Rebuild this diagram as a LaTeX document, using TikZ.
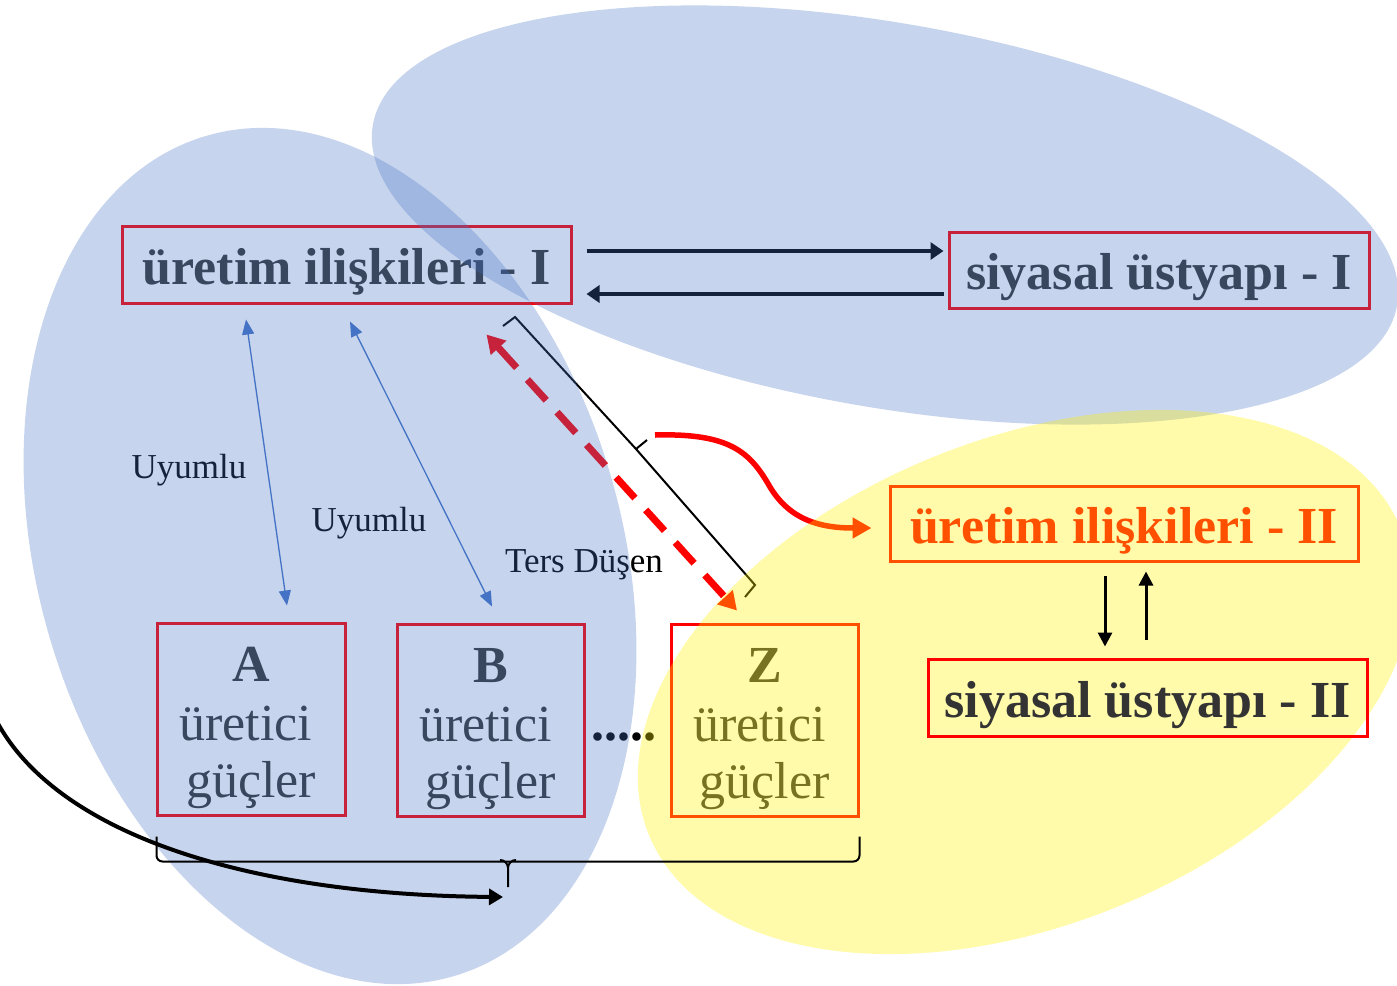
\documentclass[tikz,border=0pt]{standalone}
\usepackage{fontspec}
\setmainfont{Liberation Serif}
\usetikzlibrary{arrows.meta}
\definecolor{blueE}{HTML}{4472C4}
\definecolor{darkT}{HTML}{333333}
\begin{document}
\begin{tikzpicture}[x=1pt,y=1pt,
  bigbox/.style={draw=red, line width=3pt, rectangle, inner sep=0pt, text height=39pt, text depth=0pt, font=\fontsize{52}{58}\selectfont\bfseries},
  pbox/.style={draw=red, line width=3pt, rectangle, inner sep=0pt, minimum width=187pt, minimum height=192pt},
  bigtxt/.style={anchor=base, inner sep=0pt, text=darkT, font=\fontsize{52}{58}\selectfont},
  bigtxtb/.style={anchor=base, inner sep=0pt, text=darkT, font=\fontsize{52}{58}\selectfont\bfseries},
  lbl/.style={anchor=base, inner sep=0pt, text=black, font=\fontsize{35}{40}\selectfont},
  dkarrow/.style={line width=4.5pt, -{Triangle[length=13pt,width=17pt]}},
  vtarrow/.style={line width=3pt, -{Triangle[length=14pt,width=14pt]}},
  bluearrow/.style={blueE, line width=1.3pt, {Triangle[length=15pt,width=12pt]}-{Triangle[length=15pt,width=12pt]}},
  bracketline/.style={line width=2pt, line join=miter},
  blueblob/.style={fill=blueE, opacity=0.3},
  yellowblob/.style={fill=yellow, opacity=0.333}
]
\clip (0,0) rectangle (1397,-985);

% ---------- lower layer (seen through the ellipses) ----------
\node[bigbox, minimum width=449pt, minimum height=77pt, text=darkT] (rel1) at (346.5,-264.5) {üretim ilişkileri - I};
\node[bigbox, minimum width=420pt, minimum height=76pt, text=darkT] (pol1) at (1159,-270) {siyasal üstyapı - I};
\node[bigbox, minimum width=468pt, minimum height=75pt, text=red] (rel2) at (1124,-523.5) {üretim ilişkileri - II};

\node[pbox, minimum width=188pt] (fa) at (251,-719) {};
\node[pbox] (fb) at (490.5,-720) {};
\node[pbox] (fz) at (764.5,-720) {};

\node[bigtxtb] (faT) at ([yshift=38pt]fa.center) {A};
\node[bigtxt] (fa1) at ([xshift=-5pt,yshift=-21pt]fa.center) {üretici};
\node[bigtxt] (fa2) at ([yshift=-78pt]fa.center) {güçler};
\node[bigtxtb] (fbT) at ([yshift=38pt]fb.center) {B};
\node[bigtxt] (fb1) at ([xshift=-5pt,yshift=-21pt]fb.center) {üretici};
\node[bigtxt] (fb2) at ([yshift=-78pt]fb.center) {güçler};
\node[bigtxtb] (fzT) at ([yshift=38pt]fz.center) {Z};
\node[bigtxt] (fz1) at ([xshift=-5pt,yshift=-21pt]fz.center) {üretici};
\node[bigtxt] (fz2) at ([yshift=-78pt]fz.center) {güçler};

\node[bigtxtb, text=black] (dots) at (624,-740) {.....};

\node[lbl] (u1) at (189,-478) {Uyumlu};
\node[lbl] (u2) at (369,-531) {Uyumlu};
\node[lbl] (td) at (584,-572) {Ters Düşen};

\draw[dkarrow] ([xshift=14pt,yshift=13.5pt]rel1.east) -- ([xshift=-4pt,yshift=19pt]pol1.west);
\draw[dkarrow] ([xshift=-4pt,yshift=-24pt]pol1.west) -- ([xshift=14pt,yshift=-29.5pt]rel1.east);

\draw[red, line width=7pt, dash pattern=on 28pt off 16pt,
  {Triangle[length=18pt,width=20pt]}-{Triangle[length=18pt,width=20pt]}]
  ([xshift=-86pt,yshift=-30pt]rel1.south east) -- ([xshift=-27.5pt,yshift=12pt]fz.north);

\coordinate (bk1) at (503,-326);
\coordinate (bk2) at (515,-317);
\coordinate (bkm) at (636,-449);
\coordinate (bkt) at (647,-440);
\coordinate (bk3) at (755,-585);
\coordinate (bk4) at (745,-597);
\draw[bracketline] (bk1) -- (bk2) -- (bkm) -- (bkt) (bkm) -- (bk3) -- (bk4);

\coordinate (rs) at (655,-435);
\draw[red, line width=5.5pt, -{Triangle[length=19pt,width=20pt]}]
  (rs) .. controls (730,-433) and (750,-452) .. (770,-487)
       .. controls (790,-520) and (820,-528) .. ([xshift=-17pt,yshift=-4.5pt]rel2.west);

% ---------- ellipses ----------
\fill[blueblob, rotate around={-10:(885,-215)}] (885,-215) ellipse [x radius=520pt, y radius=192pt];
\fill[blueblob, rotate around={16.5:(330,-556)}] (330,-556) ellipse [x radius=292pt, y radius=438pt];
\fill[yellowblob, rotate around={22.1:(1025,-682)}] (1025,-682) ellipse [x radius=406pt, y radius=243pt];

% ---------- top layer ----------
\node[bigbox, minimum width=439pt, minimum height=77pt, text=darkT] (pol2) at (1147.5,-697.5) {siyasal üstyapı - II};

\draw[vtarrow] ([xshift=-19pt,yshift=-13pt]rel2.south) -- ([xshift=-42.5pt,yshift=11pt]pol2.north);
\draw[vtarrow] ([xshift=-1.5pt,yshift=18pt]pol2.north) -- ([xshift=22pt,yshift=-9pt]rel2.south);

\draw[bluearrow] ([xshift=-100.5pt,yshift=-15pt]rel1.south) -- ([xshift=36pt,yshift=16pt]fa.north);
\draw[bluearrow] ([xshift=3.5pt,yshift=-17pt]rel1.south) -- ([xshift=1.5pt,yshift=16pt]fb.north);

\draw[line width=2pt, rounded corners=6pt]
  ([xshift=1pt,yshift=-20pt]fa.south west) -- ([xshift=1pt,yshift=-45pt]fa.south west)
  -- ([yshift=-44pt]fz.south east) -- ([yshift=-19pt]fz.south east);
\coordinate (btk) at (508,-887);
\draw[line width=2pt] (btk) -- (508,-868) to[out=90,in=0] (500,-860)
  (508,-868) to[out=90,in=180] (516,-860);

\coordinate (cs) at (-5,-718);
\draw[line width=4pt, -{Triangle[length=14pt,width=16pt]}]
  (cs) .. controls (55,-835) and (250,-895) .. ([xshift=-5pt,yshift=-10pt]btk);
\end{tikzpicture}
\end{document}
